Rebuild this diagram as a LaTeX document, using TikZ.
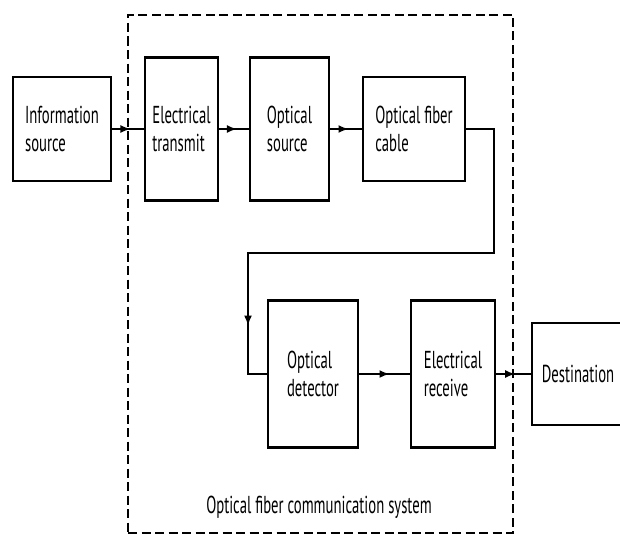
\documentclass[tikz,border=0pt]{standalone}
\usepackage{fontspec}
\setmainfont{PT Sans}[FakeStretch=0.6]
\usetikzlibrary{arrows.meta,decorations.markings,calc}
\begin{document}
\begin{tikzpicture}[x=1pt,y=-1pt,
  blk/.style={draw, line width=2.8pt, align=left, inner sep=0pt,
    font=\fontsize{24.5}{28}\selectfont},
  conn/.style={line width=1.9pt, line join=miter},
  midarrow/.style={conn, postaction=decorate,
    decoration={markings, mark=at position #1 with {\arrow{Latex[length=10pt,width=8pt]}}}},
  midarrow/.default=0.55,
  sysbox/.style={draw, line width=1.7pt, dash pattern=on 9pt off 4.5pt, inner sep=0pt},
  lbl/.style={font=\fontsize{24.5}{28}\selectfont, inner sep=0pt}
  ]
\useasboundingbox (0,0) rectangle (620,535);
\fill[white] (0,0) rectangle (620,535);
% system boundary
\node[sysbox, minimum width=385pt, minimum height=518pt] (sys) at (320.5,274) {};
\node[lbl] (syslabel) at (319,507) {Optical fiber communication system};
% blocks
\node[blk, minimum width=98pt, minimum height=104pt] (info) at (62,129) {Information\\source};
\node[blk, minimum width=73pt, minimum height=143pt] (etx) at (181.5,129) {Electrical\\transmit};
\node[blk, minimum width=79pt, minimum height=143pt] (osrc) at (289.5,129) {Optical\\source};
\node[blk, minimum width=102pt, minimum height=104pt] (fiber) at (414,129) {Optical fiber\\cable};
\node[blk, minimum width=90pt, minimum height=147pt] (det) at (313,374) {Optical\\detector};
\node[blk, minimum width=84pt, minimum height=147pt] (rcv) at (453,374) {Electrical\\receive};
\node[blk, minimum width=92pt, minimum height=102pt] (dest) at (578,374) {Destination};
% connectors
\draw[midarrow=0.58] (info.east) -- (etx.west);
\draw[midarrow=0.6] (etx.east) -- (osrc.west);
\draw[midarrow=0.58] (osrc.east) -- (fiber.west);
\coordinate (c1) at (494,253);
\coordinate (c2) at (248,253);
\draw[conn] (fiber.east) -| (c1) -- (c2) -- (c2 |- det.west) -- (det.west);
\draw[midarrow=0.6] (c2) -- (c2 |- det.west);
\draw[midarrow=0.6] (det.east) -- (rcv.west);
\draw[midarrow=0.55] (rcv.east) -- (dest.west);
\end{tikzpicture}
\end{document}
